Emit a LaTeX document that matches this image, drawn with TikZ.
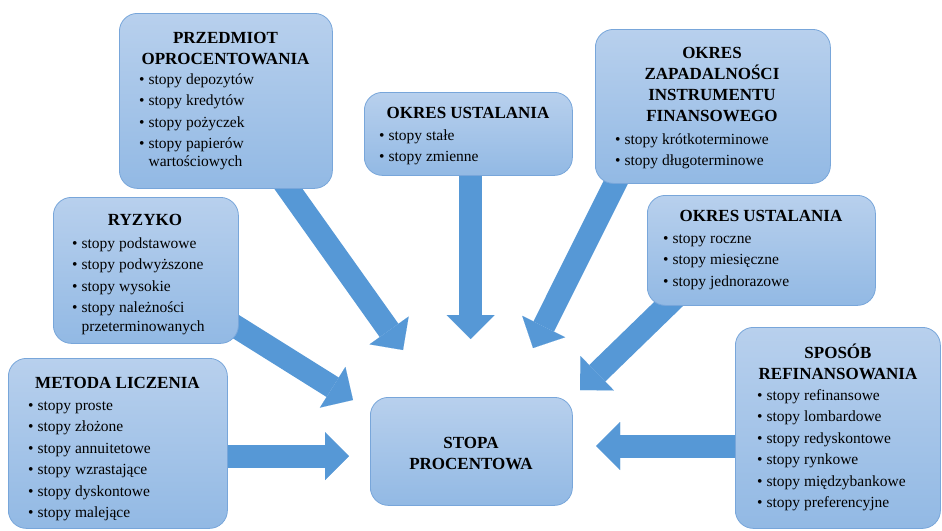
\documentclass[tikz,border=0pt]{standalone}
\usepackage{fontspec}
\setmainfont{Liberation Serif}
\usetikzlibrary{arrows.meta,calc}
\definecolor{boxtop}{RGB}{184,208,237}
\definecolor{boxbot}{RGB}{146,185,228}
\definecolor{boxline}{RGB}{120,166,218}
\definecolor{arrowblue}{RGB}{86,152,214}
\pgfdeclarelayer{bg}
\pgfsetlayers{bg,main}
\newcommand{\blist}[1]{{\fontsize{15.5}{21.5}\selectfont\begin{tabular}[t]{@{}l@{\hspace{4pt}}l@{}}#1\end{tabular}}}
\newcommand{\btitle}[1]{{\fontsize{17}{21}\selectfont\bfseries\begin{tabular}[t]{@{}c@{}}#1\end{tabular}}}
\tikzset{
  box/.style={draw=boxline, line width=0.8pt, rounded corners=18pt, top color=boxtop, bottom color=boxbot, anchor=north west, inner sep=0pt},
  ttl/.style={inner sep=0pt, anchor=base},
  lst/.style={inner sep=0pt, anchor=base west},
  barrow/.style={draw=arrowblue, line width=23pt, -{Triangle[width=48pt,length=24pt,line width=0.01pt]}},
  deep/.style={shorten <=-25pt}
}
\begin{document}
\begin{tikzpicture}[x=1pt,y=-1pt]
\useasboundingbox (0,0) rectangle (942,530);
% boxes
\node[box, minimum width=213pt, minimum height=175pt] (przedmiot) at (119,13) {};
\node[box, minimum width=208pt, minimum height=83pt] (okres1) at (364,92) {};
\node[box, minimum width=235pt, minimum height=154pt] (zapad) at (595,29) {};
\node[box, minimum width=228pt, minimum height=110pt] (okres2) at (647,195) {};
\node[box, minimum width=205pt, minimum height=201pt] (sposob) at (735,327) {};
\node[box, minimum width=219pt, minimum height=170pt] (metoda) at (8,358) {};
\node[box, minimum width=185pt, minimum height=146pt] (ryzyko) at (53,197) {};
\node[box, minimum width=202pt, minimum height=108pt] (stopa) at (370,397) {};
% texts
\node[ttl] (przedmiot-t) at (225.5,43) {\btitle{PRZEDMIOT\\OPROCENTOWANIA}};
\node[lst] (przedmiot-l) at (139,84) {\blist{\textbullet & stopy depozytów\\ \textbullet & stopy kredytów\\ \textbullet & stopy pożyczek\\ \textbullet & stopy papierów\\[-4pt] & wartościowych}};
\node[ttl] (okres1-t) at (468,118) {\btitle{OKRES USTALANIA}};
\node[lst] (okres1-l) at (379,140) {\blist{\textbullet & stopy stałe\\ \textbullet & stopy zmienne}};
\node[ttl] (zapad-t) at (712,58) {\btitle{OKRES\\ZAPADALNOŚCI\\INSTRUMENTU\\FINANSOWEGO}};
\node[lst] (zapad-l) at (615,144) {\blist{\textbullet & stopy krótkoterminowe\\ \textbullet & stopy długoterminowe}};
\node[ttl] (okres2-t) at (761,221) {\btitle{OKRES USTALANIA}};
\node[lst] (okres2-l) at (663,243) {\blist{\textbullet & stopy roczne\\ \textbullet & stopy miesięczne\\ \textbullet & stopy jednorazowe}};
\node[ttl] (sposob-t) at (838,358) {\btitle{SPOSÓB\\REFINANSOWANIA}};
\node[lst] (sposob-l) at (757,400) {\blist{\textbullet & stopy refinansowe\\ \textbullet & stopy lombardowe\\ \textbullet & stopy redyskontowe\\ \textbullet & stopy rynkowe\\ \textbullet & stopy międzybankowe\\ \textbullet & stopy preferencyjne}};
\node[ttl] (metoda-t) at (117.5,388) {\btitle{METODA LICZENIA}};
\node[lst] (metoda-l) at (28,410) {\blist{\textbullet & stopy proste\\ \textbullet & stopy złożone\\ \textbullet & stopy annuitetowe\\ \textbullet & stopy wzrastające\\ \textbullet & stopy dyskontowe\\ \textbullet & stopy malejące}};
\node[ttl] (ryzyko-t) at (145,225) {\btitle{RYZYKO}};
\node[lst] (ryzyko-l) at (72,248) {\blist{\textbullet & stopy podstawowe\\ \textbullet & stopy podwyższone\\ \textbullet & stopy wysokie\\ \textbullet & stopy należności\\[-3pt] & przeterminowanych}};
\node[ttl] (stopa-t) at (471,448) {\btitle{STOPA\\PROCENTOWA}};
% arrow tips
\coordinate (t1) at (349,456);
\coordinate (t2) at (596,446);
\coordinate (t3) at (353,400);
\coordinate (t4) at (403,350);
\coordinate (t5) at (470.5,339);
\coordinate (t6) at (533,348);
\coordinate (t7) at (580,390);
\begin{pgfonlayer}{bg}
\draw[barrow] (metoda.east |- t1) -- (t1);
\draw[barrow] (sposob.west |- t2) -- (t2);
\draw[barrow, deep] (ryzyko) -- (t3);
\draw[barrow, deep] (przedmiot) -- (t4);
\draw[barrow] (t5 |- okres1.south) -- (t5);
\draw[barrow, deep] ($(zapad.south west)+(25,-10)$) -- (t6);
\draw[barrow, deep] ($(okres2.south west)+(30,-10)$) -- (t7);
\end{pgfonlayer}
\end{tikzpicture}
\end{document}
